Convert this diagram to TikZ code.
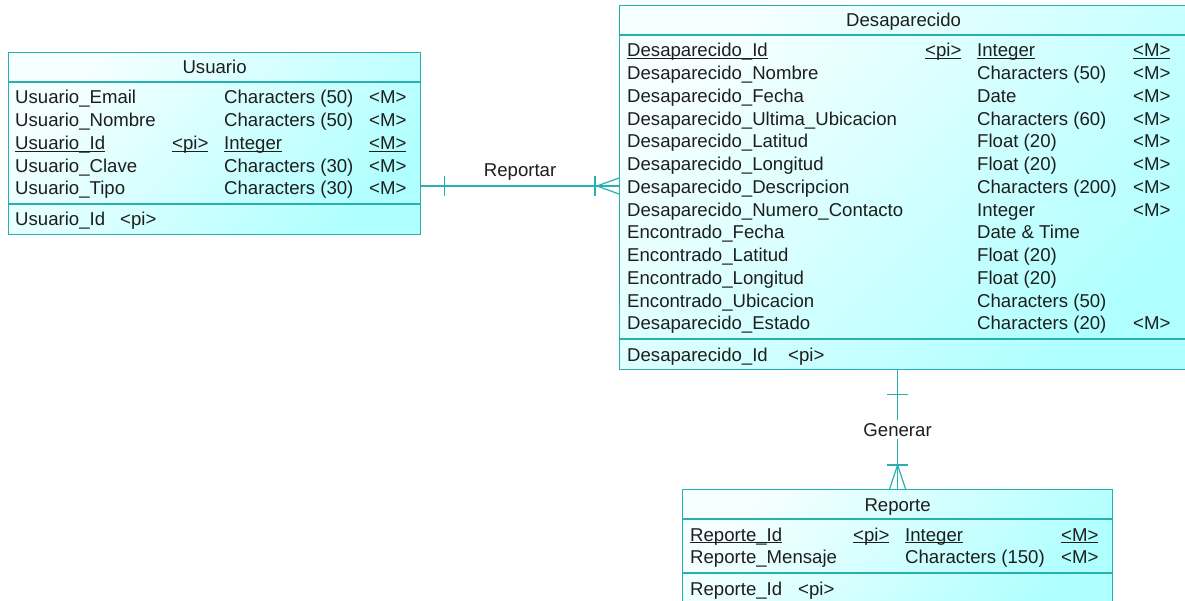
\documentclass[tikz,border=0pt]{standalone}
\usepackage{fontspec}
\setmainfont{Liberation Sans}
\usepackage[]{xcolor}
\usetikzlibrary{calc}

\definecolor{erline}{RGB}{38,176,176}
\definecolor{erlight}{RGB}{246,255,255}
\definecolor{erdark}{RGB}{176,255,255}
\definecolor{ertext}{RGB}{30,30,30}
\newcommand{\keyline}[1]{\setbox0\hbox{#1}\rlap{\rule[-2.4pt]{\wd0}{1.1pt}}\box0}

\begin{document}
\begin{tikzpicture}[
            x=1pt, y=-1pt,
            font=\fontsize{18.6}{22.75}\selectfont,
            entity/.style={rectangle, draw=erline, line width=1.2pt, top color=erlight, bottom color=erdark, shading angle=45, anchor=north west, inner sep=0pt},
            sep/.style={draw=erline, line width=1.2pt},
            field/.style={anchor=base west, inner sep=0pt, text=ertext},
            title/.style={anchor=base, inner sep=0pt, text=ertext},
            rel/.style={draw=erline, line width=1.2pt},
            rolename/.style={inner sep=3pt, text=ertext}
        ]
            \useasboundingbox (0,0) rectangle (1185,601);
            \fill[white] (0,0) rectangle (1185,601);

            % entities
            \node[entity, minimum width=412pt, minimum height=182pt] (usuario) at (8,52) {};
            \node[entity, minimum width=568pt, minimum height=364pt] (desaparecido) at (619,5) {};
            \node[entity, minimum width=430pt, minimum height=114pt] (reporte) at (682,489) {};

            \draw[sep] (usuario.west |- 0,82) -- (usuario.east |- 0,82);
            \draw[sep] (usuario.west |- 0,204) -- (usuario.east |- 0,204);
            \draw[sep] (desaparecido.west |- 0,35) -- (desaparecido.east |- 0,35);
            \draw[sep] (desaparecido.west |- 0,339) -- (desaparecido.east |- 0,339);
            \draw[sep] (reporte.west |- 0,519) -- (reporte.east |- 0,519);
            \draw[sep] (reporte.west |- 0,573) -- (reporte.east |- 0,573);

            \node[title] (usuario-title) at (usuario.north |- 0,74) {Usuario};
            \node[title] (desaparecido-title) at (desaparecido.north |- 0,27) {Desaparecido};
            \node[title] (reporte-title) at (reporte.north |- 0,511) {Reporte};

            % attributes
            \foreach \fname/\fpi/\ftype/\fm [count=\i] in {
                Usuario\_Email/{}/Characters (50)/<M>,
                Usuario\_Nombre/{}/Characters (50)/<M>,
                \keyline{Usuario\_Id}/\keyline{<pi>}/\keyline{Integer}/\keyline{<M>},
                Usuario\_Clave/{}/Characters (30)/<M>,
                Usuario\_Tipo/{}/Characters (30)/<M>} {
                \node[field] (usuario-n\i) at (15,81.25+22.75*\i) {\fname};
                \node[field] (usuario-p\i) at (172,81.25+22.75*\i) {\fpi};
                \node[field] (usuario-t\i) at (224,81.25+22.75*\i) {\ftype};
                \node[field] (usuario-m\i) at (369,81.25+22.75*\i) {\fm};
            }
            \foreach \fname/\fpi/\ftype/\fm [count=\i] in {
                \keyline{Desaparecido\_Id}/\keyline{<pi>}/\keyline{Integer}/\keyline{<M>},
                Desaparecido\_Nombre/{}/Characters (50)/<M>,
                Desaparecido\_Fecha/{}/Date/<M>,
                Desaparecido\_Ultima\_Ubicacion/{}/Characters (60)/<M>,
                Desaparecido\_Latitud/{}/Float (20)/<M>,
                Desaparecido\_Longitud/{}/Float (20)/<M>,
                Desaparecido\_Descripcion/{}/Characters (200)/<M>,
                Desaparecido\_Numero\_Contacto/{}/Integer/<M>,
                Encontrado\_Fecha/{}/Date \& Time/{},
                Encontrado\_Latitud/{}/Float (20)/{},
                Encontrado\_Longitud/{}/Float (20)/{},
                Encontrado\_Ubicacion/{}/Characters (50)/{},
                Desaparecido\_Estado/{}/Characters (20)/<M>} {
                \node[field] (desaparecido-n\i) at (627,34.25+22.75*\i) {\fname};
                \node[field] (desaparecido-p\i) at (925,34.25+22.75*\i) {\fpi};
                \node[field] (desaparecido-t\i) at (977,34.25+22.75*\i) {\ftype};
                \node[field] (desaparecido-m\i) at (1133,34.25+22.75*\i) {\fm};
            }
            \foreach \fname/\fpi/\ftype/\fm [count=\i] in {
                \keyline{Reporte\_Id}/\keyline{<pi>}/\keyline{Integer}/\keyline{<M>},
                Reporte\_Mensaje/{}/Characters (150)/<M>} {
                \node[field] (reporte-n\i) at (690,518.25+22.75*\i) {\fname};
                \node[field] (reporte-p\i) at (853,518.25+22.75*\i) {\fpi};
                \node[field] (reporte-t\i) at (905,518.25+22.75*\i) {\ftype};
                \node[field] (reporte-m\i) at (1061,518.25+22.75*\i) {\fm};
            }

            % identifiers
            \node[field] (usuario-key) at (15,226) {Usuario\_Id};
            \node[field] (usuario-keypi) at (120,226) {<pi>};
            \node[field] (desaparecido-key) at (627,361) {Desaparecido\_Id};
            \node[field] (desaparecido-keypi) at (788,361) {<pi>};
            \node[field] (reporte-key) at (690,595) {Reporte\_Id};
            \node[field] (reporte-keypi) at (798,595) {<pi>};

            % Reportar
            \coordinate (ra) at (usuario.east |- 0,186);
            \coordinate (rb) at (desaparecido.west |- 0,186);
            \draw[rel] (ra) -- (rb) node[rolename, midway, yshift=14pt] (reportar) {Reportar};
            \draw[rel] ($(ra)+(23,-10)$) -- ++(0,20);
            \draw[rel] ($(rb)+(-24,-10)$) -- ++(0,20);
            \draw[rel] ($(rb)+(0,-8)$) -- ($(rb)+(-22,0)$) -- ($(rb)+(0,8)$);

            % Generar
            \coordinate (ga) at (reporte.north |- desaparecido.south);
            \draw[rel] (ga) -- (reporte.north) node[rolename, midway, fill=white] (generar) {Generar};
            \draw[rel] ($(ga)+(-10.5,24)$) -- ++(21,0);
            \draw[rel] ($(reporte.north)+(-10.5,-24)$) -- ++(21,0);
            \draw[rel] ($(reporte.north)+(-8,0)$) -- ($(reporte.north)+(0,-24)$) -- ($(reporte.north)+(8,0)$);
        \end{tikzpicture}
\end{document}
